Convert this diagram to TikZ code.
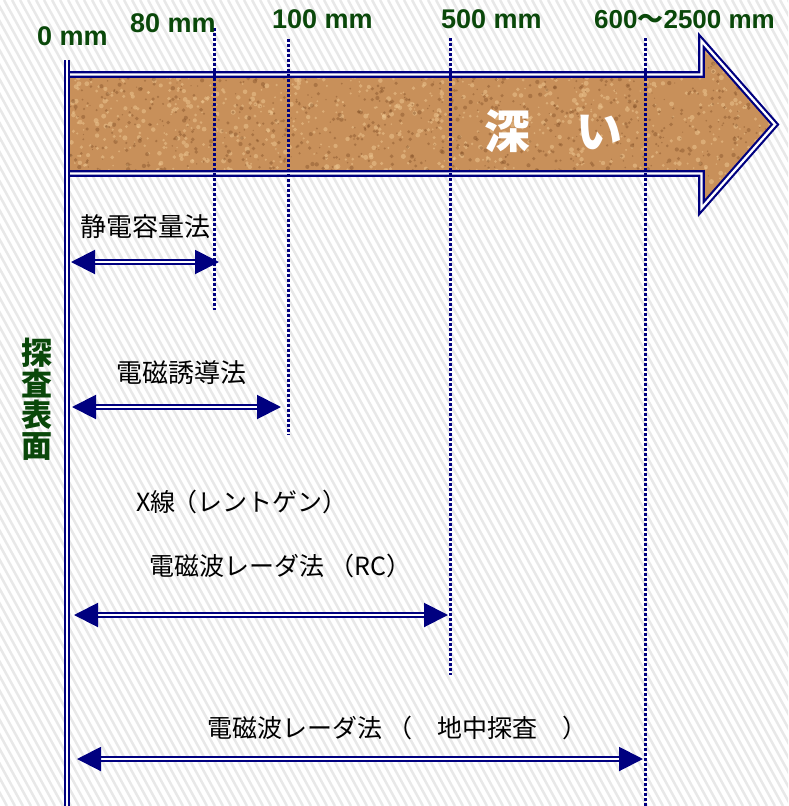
\documentclass[tikz,border=0pt]{standalone}
\usepackage{fontspec}
\setmainfont{Liberation Sans}
\newfontfamily\jp{Noto Sans CJK JP}
\usetikzlibrary{arrows.meta}
\definecolor{navy}{RGB}{0,0,128}
\definecolor{dgreen}{RGB}{10,72,10}
\definecolor{cork}{RGB}{200,144,90}
\definecolor{corkdark}{RGB}{125,75,35}
\definecolor{corklight}{RGB}{236,196,142}
\definecolor{stripe}{RGB}{232,232,232}
\tikzset{
  dimarrow/.style={draw=navy, double=white, double distance=2pt, line width=2pt,
    {Triangle[length=24pt,width=24pt]}-{Triangle[length=24pt,width=24pt]}},
  guide/.style={draw=navy, line width=3pt, dash pattern=on 2.7pt off 2.3pt},
  depthlabel/.style={text=dgreen, font=\bfseries\fontsize{27}{27}\selectfont, inner sep=0pt, anchor=base west},
  method/.style={text=black, font=\jp\fontsize{25}{25}\selectfont, inner sep=0pt, anchor=west},
  dblline/.style={draw=navy, line width=2.2pt, double=white, double distance=2.3pt},
}
\begin{document}
\begin{tikzpicture}[x=1pt,y=-1pt]
\useasboundingbox (0,0) rectangle (788,806);
\fill[white] (0,0) rectangle (788,806);
% background stripes
\begin{scope}
  \clip (0,0) rectangle (788,806);
  \foreach \x in {-460,-452,...,800}
    \draw[stripe, line width=2.5pt] (\x,0) -- (\x+443,806);
\end{scope}

% big arrow
\fill[cork] (70,74.5) -- (701.5,74.5) -- (701.5,41) -- (775,124.5) -- (701.5,208) -- (701.5,173.5) -- (70,173.5) -- cycle;
\begin{scope}
  \clip (70,74.5) -- (701.5,74.5) -- (701.5,41) -- (775,124.5) -- (701.5,208) -- (701.5,173.5) -- (70,173.5) -- cycle;
  \pgfmathsetseed{7}
  \foreach \i in {1,...,1300}{
    \pgfmathsetmacro\px{70+rnd*710}
    \pgfmathsetmacro\py{38+rnd*174}
    \pgfmathsetmacro\pr{0.8+rnd*1.8}
    \fill[corklight, opacity=0.55] (\px,\py) circle (\pr pt);
  }
  \foreach \i in {1,...,1300}{
    \pgfmathsetmacro\px{70+rnd*710}
    \pgfmathsetmacro\py{38+rnd*174}
    \pgfmathsetmacro\pr{0.6+rnd*1.6}
    \fill[corkdark, opacity=0.4] (\px,\py) circle (\pr pt);
  }
\end{scope}
\draw[dblline] (67,74.5) -- (701.5,74.5) -- (701.5,41) -- (775,124.5) -- (701.5,208) -- (701.5,173.5) -- (67,173.5);
\node[text=white, font=\jp\bfseries\fontsize{46}{46}\selectfont, anchor=west, inner sep=0pt] (deep) at (484,131) {深　い};

% surface line
\coordinate (surfTop) at (67,60);
\coordinate (surfBot) at (67,810);
\draw[draw=navy, line width=2pt, double=white, double distance=2pt] (surfTop) -- (surfBot);

% guide lines
\coordinate (g80t) at (214,28);   \coordinate (g80b) at (214,310);
\coordinate (g100t) at (288,39);  \coordinate (g100b) at (288,435);
\coordinate (g500t) at (450,38);  \coordinate (g500b) at (450,675);
\coordinate (g600t) at (645,38);  \coordinate (g600b) at (645,806);
\draw[guide] (g80t) -- (g80b);
\draw[guide] (g100t) -- (g100b);
\draw[guide] (g500t) -- (g500b);
\draw[guide] (g600t) -- (g600b);

% depth labels
\node[depthlabel] (d0) at (37,45) {0 mm};
\node[depthlabel] (d80) at (130,32) {80 mm};
\node[depthlabel] (d100) at (272,28) {100 mm};
\node[depthlabel] (d500) at (441,28) {500 mm};
\node[depthlabel, font=\bfseries\fontsize{26}{26}\selectfont] (d600) at (594,28) {600{\jp～}2500 mm};

% surface label
\node[text=dgreen, font=\jp\bfseries\fontsize{31}{31}\selectfont, align=center, inner sep=0pt] (surf) at (37,399) {探\\査\\表\\面};

% methods
\node[method, font=\jp\fontsize{26}{26}\selectfont] (m1) at (80,227) {静電容量法};
\node[method, font=\jp\fontsize{26}{26}\selectfont] (m2) at (116,373) {電磁誘導法};
\node[method] (m3) at (136,502) {X線\kern-3pt （レントゲン）};
\node[method] (m4) at (149,566) {電磁波レーダ法 （RC）};
\node[method] (m5) at (207,728) {電磁波レーダ法 （　地中探査　）};

\coordinate (a1l) at (71,262);  \coordinate (a1r) at (219,262);
\coordinate (a2l) at (72,407);  \coordinate (a2r) at (281,407);
\coordinate (a3l) at (74,615);  \coordinate (a3r) at (448,615);
\coordinate (a4l) at (77,759);  \coordinate (a4r) at (643,759);
\draw[dimarrow] (a1l) -- (a1r);
\draw[dimarrow] (a2l) -- (a2r);
\draw[dimarrow] (a3l) -- (a3r);
\draw[dimarrow] (a4l) -- (a4r);
\end{tikzpicture}
\end{document}
